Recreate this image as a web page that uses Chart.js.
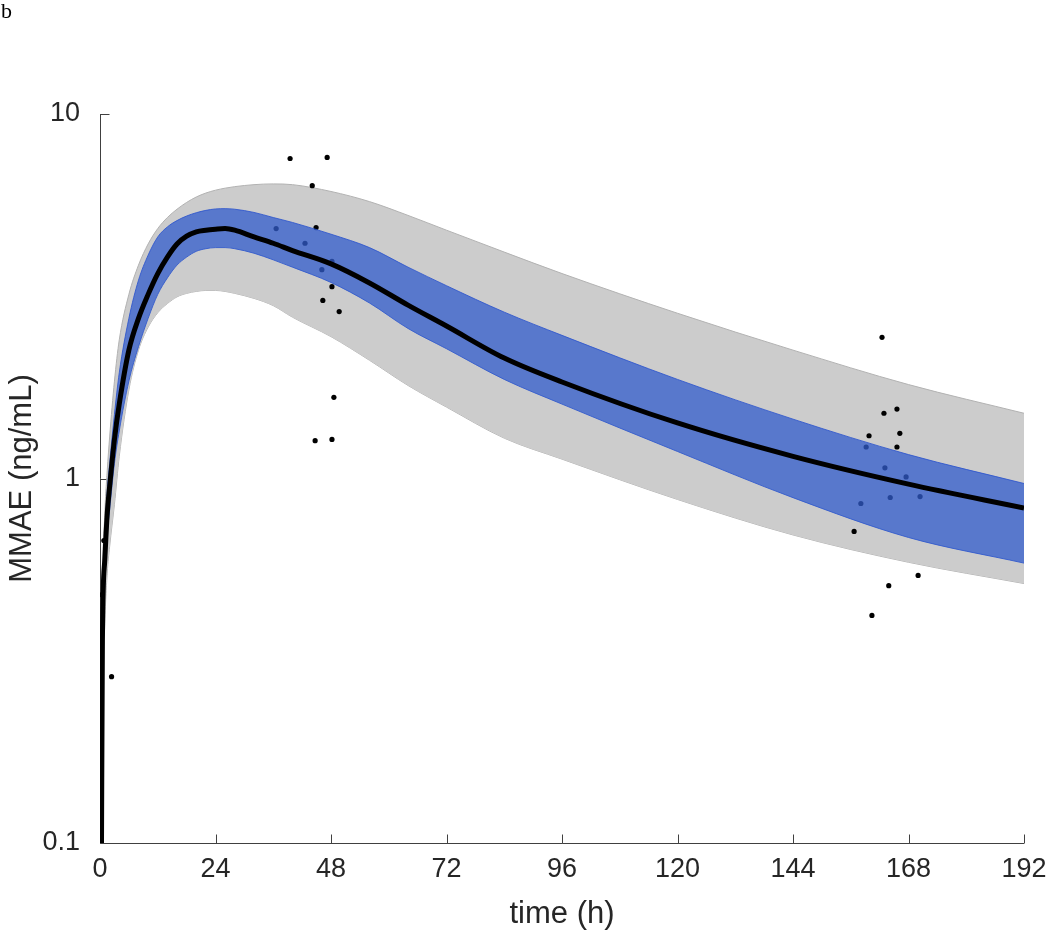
<!DOCTYPE html>
<html><head><meta charset="utf-8">
<script src="https://cdn.jsdelivr.net/npm/chart.js@4.4.1/dist/chart.umd.min.js"></script>
<style>html,body{margin:0;padding:0;background:#fff;} #wrap{width:1050px;height:935px;position:relative;}</style>
</head><body><div id="wrap"><canvas id="c" width="1050" height="935"></canvas></div>
<script>
// ---- data ----
const times      = [0.3, 0.5, 1, 1.5, 2, 3, 4, 6, 8, 10, 12, 14, 16, 18, 20, 22, 24, 26, 28, 32, 36, 40, 48, 56, 64, 72, 84, 96, 120, 144, 168, 192];
const median     = [0.09, 0.36, 0.6, 0.8, 0.95, 1.28, 1.6, 2.25, 2.75, 3.2, 3.65, 4.05, 4.4, 4.62, 4.75, 4.8, 4.83, 4.85, 4.8, 4.6, 4.42, 4.22, 3.88, 3.44, 2.99, 2.62, 2.14, 1.84, 1.42, 1.15, 0.965, 0.83];
const blueUpper  = [0.12, 0.4, 0.68, 0.92, 1.1, 1.5, 1.95, 2.75, 3.5, 4.1, 4.6, 4.9, 5.1, 5.25, 5.36, 5.44, 5.49, 5.5, 5.48, 5.37, 5.2, 5.04, 4.68, 4.3, 3.8, 3.38, 2.86, 2.47, 1.87, 1.455, 1.163, 0.969];
const blueLower  = [0.07, 0.3, 0.52, 0.7, 0.82, 1.1, 1.35, 1.85, 2.3, 2.75, 3.2, 3.55, 3.85, 4.05, 4.2, 4.27, 4.3, 4.3, 4.27, 4.15, 3.98, 3.8, 3.45, 3.03, 2.58, 2.27, 1.87, 1.6, 1.186, 0.886, 0.689, 0.586];
const grayUpper  = [0.15, 0.45, 0.8, 1.05, 1.3, 1.85, 2.4, 3.2, 3.85, 4.4, 4.85, 5.2, 5.48, 5.72, 5.92, 6.07, 6.18, 6.26, 6.32, 6.4, 6.43, 6.4, 6.13, 5.75, 5.27, 4.8, 4.18, 3.65, 2.84, 2.25, 1.81, 1.51];
const grayLower  = [0.05, 0.2, 0.4, 0.55, 0.65, 0.85, 1.15, 1.75, 2.25, 2.6, 2.85, 3.02, 3.15, 3.22, 3.26, 3.28, 3.28, 3.26, 3.22, 3.12, 2.98, 2.77, 2.45, 2.11, 1.8, 1.57, 1.29, 1.13, 0.876, 0.70, 0.589, 0.515];
const obsTime    = [0.15, 0.4, 0.8, 2.4, 39.5, 47.2, 44.1, 44.9, 36.6, 42.6, 48.2, 46.1, 48.2, 46.3, 49.7, 48.6, 44.7, 48.2, 162.5, 162.9, 165.6, 159.8, 166.2, 159.2, 165.6, 163.1, 167.5, 158.1, 164.2, 170.4, 156.7, 170.0, 163.9, 160.4];
const obsConc    = [0.337, 0.48, 0.676, 0.286, 7.55, 7.6, 6.36, 4.88, 4.85, 4.42, 3.94, 3.74, 3.36, 3.08, 2.87, 1.67, 1.27, 1.28, 2.44, 1.51, 1.55, 1.31, 1.33, 1.22, 1.22, 1.07, 1.01, 0.854, 0.887, 0.892, 0.716, 0.542, 0.508, 0.421];
const xTicks     = [0, 24, 48, 72, 96, 120, 144, 168, 192];
const yTicks     = [0.1, 1, 10];
const xTitle = 'time (h)';
const yTitle = 'MMAE (ng/mL)';
const panelLabel = 'b';

const pts = arr => times.map((t, i) => ({x: t, y: arr[i]}));
const obsPts = obsTime.map((t, i) => ({x: t, y: obsConc[i]}));

const FONT = "'Liberation Sans', Arial, Helvetica, sans-serif";
const TXT = '#262626';

const axesPlugin = {
  id: 'axesPlugin',
  beforeDatasetsDraw(chart) {
    const {ctx, chartArea: a, scales: {x, y}} = chart;
    ctx.save();
    ctx.strokeStyle = '#404040';
    ctx.lineWidth = 1;
    ctx.beginPath();
    const L = Math.round(a.left) + 0.5, B = Math.round(a.bottom) + 0.5;
    ctx.moveTo(L, a.top); ctx.lineTo(L, B); ctx.lineTo(a.right, B);
    xTicks.forEach(v => { const p = Math.round(x.getPixelForValue(v)) + 0.5; ctx.moveTo(p, B); ctx.lineTo(p, B - 9); });
    yTicks.forEach(v => { const p = Math.round(y.getPixelForValue(v)) + 0.5; ctx.moveTo(L, p); ctx.lineTo(L + 9, p); });
    ctx.stroke();
    ctx.restore();
  },
  afterDraw(chart) {
    const ctx = chart.ctx;
    ctx.save();
    ctx.font = "22px 'Liberation Serif', 'Times New Roman', serif";
    ctx.fillStyle = '#000';
    ctx.textBaseline = 'alphabetic';
    ctx.fillText(panelLabel, 1, 18);
    ctx.restore();
  }
};

const band = {pointRadius: 0, cubicInterpolationMode: 'monotone', borderWidth: 1};

new Chart(document.getElementById('c'), {
  type: 'line',
  data: {
    datasets: [
      {label: 'median', data: pts(median), borderColor: '#000', borderWidth: 5, pointRadius: 0, cubicInterpolationMode: 'monotone', fill: false, order: 0},
      Object.assign({label: 'blueUpper', data: pts(blueUpper), borderColor: 'rgba(45,85,205,0.85)', backgroundColor: 'rgba(49,92,204,0.75)', fill: {target: 2}, order: 1}, band),
      Object.assign({label: 'blueLower', data: pts(blueLower), borderColor: 'rgba(45,85,205,0.85)', fill: false, order: 1.5}, band),
      {type: 'scatter', label: 'obs', data: obsPts, backgroundColor: '#000', borderWidth: 0, pointRadius: 2.6, showLine: false, order: 2},
      Object.assign({label: 'grayUpper', data: pts(grayUpper), borderColor: '#b2b2b2', backgroundColor: '#cccccc', fill: {target: 5}, order: 3}, band),
      Object.assign({label: 'grayLower', data: pts(grayLower), borderColor: '#b2b2b2', fill: false, order: 3.5}, band)
    ]
  },
  options: {
    responsive: false,
    animation: false,
    layout: {padding: {left: 0, top: 114, right: 26, bottom: 0}},
    plugins: {legend: {display: false}, tooltip: {enabled: false}},
    scales: {
      x: {
        type: 'linear', min: 0, max: 192,
        afterBuildTicks: s => { s.ticks = xTicks.map(v => ({value: v})); },
        afterFit: s => { s.height = 92; s.paddingLeft = 0; s.paddingRight = 0; },
        grid: {display: false, drawTicks: false},
        border: {display: false},
        ticks: {font: {family: FONT, size: 27}, color: TXT, padding: 10, maxRotation: 0, autoSkip: false, callback: v => String(v)},
        title: {display: true, text: xTitle, font: {family: FONT, size: 31}, color: TXT, padding: {top: 0, bottom: 2}}
      },
      y: {
        type: 'logarithmic', min: 0.1, max: 10,
        afterBuildTicks: s => { s.ticks = yTicks.map(v => ({value: v})); },
        afterFit: s => { s.width = 100; s.paddingTop = 0; s.paddingBottom = 0; },
        grid: {display: false, drawTicks: false},
        border: {display: false},
        ticks: {font: {family: FONT, size: 27}, color: TXT, padding: 20, autoSkip: false, callback: v => String(v)},
        title: {display: true, text: yTitle, font: {family: FONT, size: 31}, color: TXT, padding: {top: 4, bottom: 0}}
      }
    }
  },
  plugins: [axesPlugin]
});
</script>
</body></html>
